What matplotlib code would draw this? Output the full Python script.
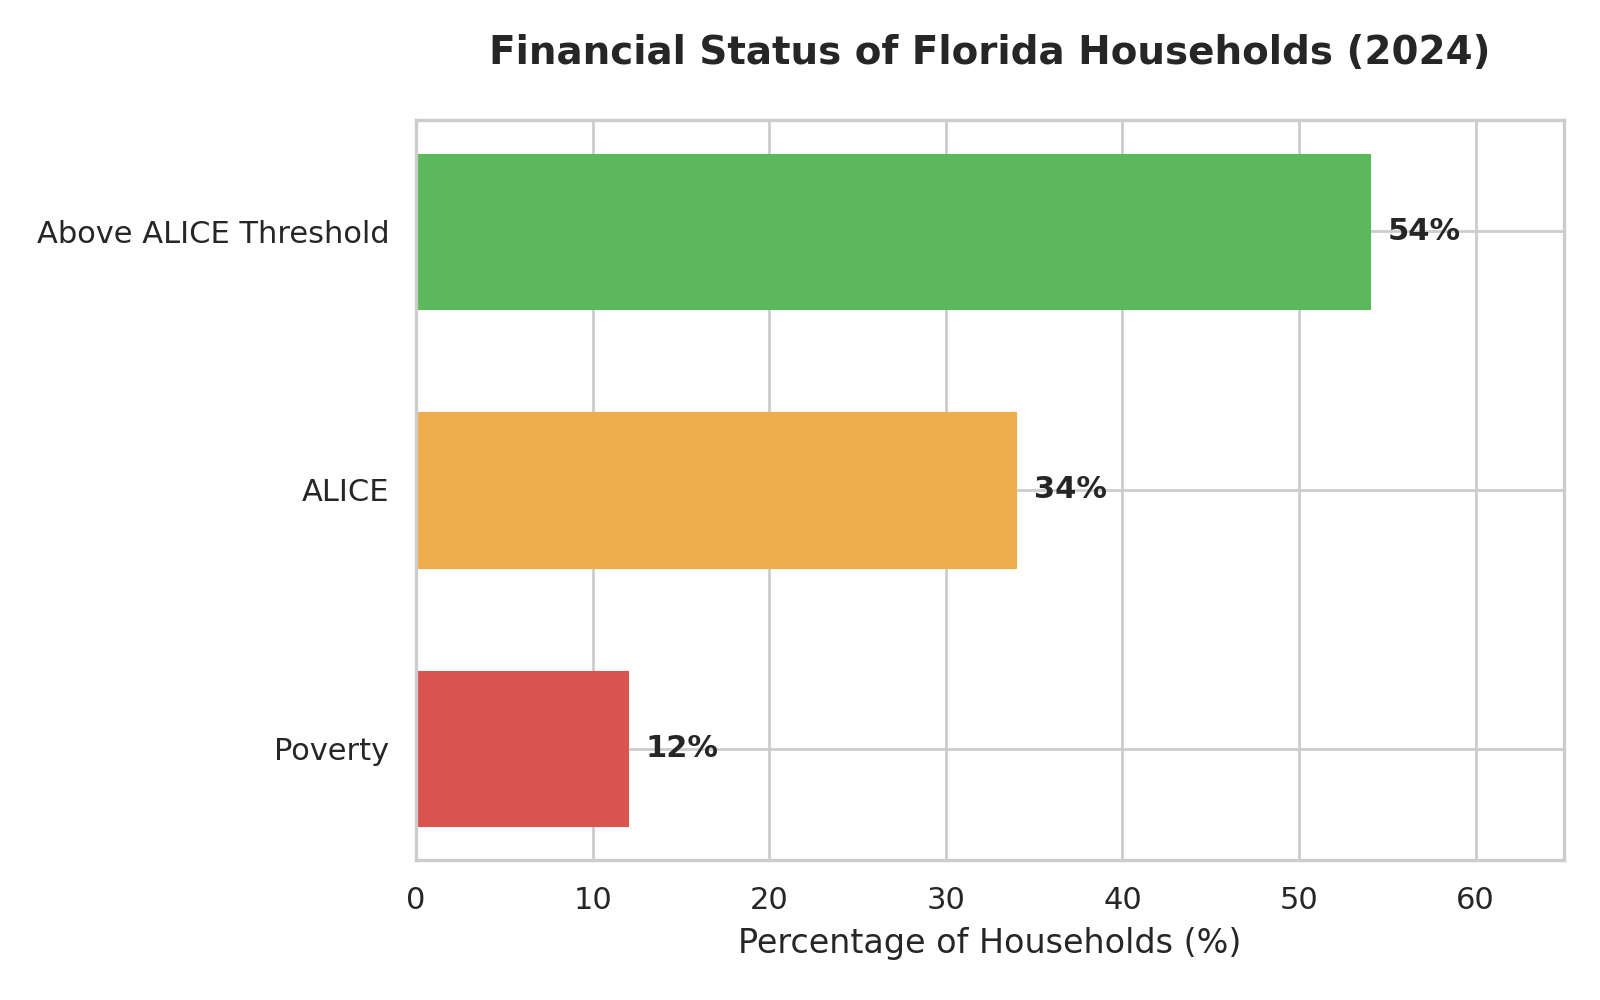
import matplotlib
matplotlib.use('Agg')
import matplotlib.pyplot as plt
import seaborn as sns

# 数据
categories = ['Poverty', 'ALICE', 'Above ALICE Threshold']
percentages = [12, 34, 54]
colors = ['#d9534f', '#f0ad4e', '#5cb85c']

sns.set_theme(style='whitegrid')
plt.rcParams['font.family'] = ['DejaVu Sans']

fig, ax = plt.subplots(figsize=(8, 5), dpi=200)
bars = ax.barh(categories, percentages, color=colors, edgecolor=colors,
               linewidth=0.4, height=0.6)

# 数值标签
for bar, val in zip(bars, percentages):
    ax.text(bar.get_width() + 1, bar.get_y() + bar.get_height() / 2, f'{val}%',
            va='center', ha='left', fontsize=11, fontweight='bold', color='#262626')

ax.set_xlim(0, 65)
ax.set_xlabel('Percentage of Households (%)', fontsize=12, color='#262626')
ax.set_title('Financial Status of Florida Households (2024)', fontsize=14,
             fontweight='bold', pad=20, color='#262626')
ax.tick_params(axis='both', labelsize=11, colors='#262626')
for s in ax.spines.values():
    s.set_color('#cccccc')
    s.set_linewidth(1.2)

fig.subplots_adjust(left=0.26, right=0.9775, bottom=0.14, top=0.88)
fig.savefig('out.png', dpi=200)
